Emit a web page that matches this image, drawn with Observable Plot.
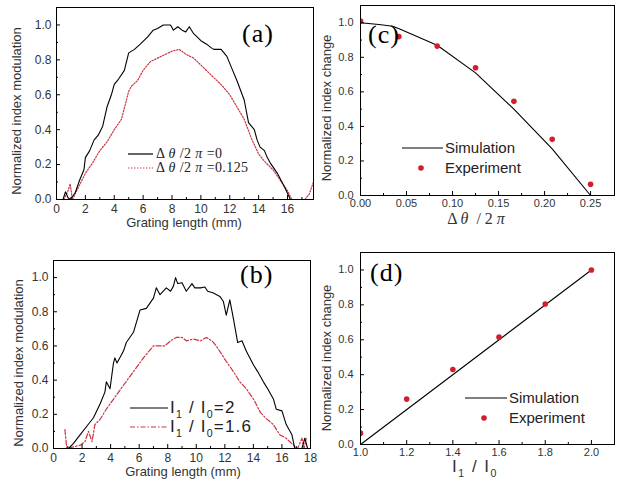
<!DOCTYPE html>
<html><head><meta charset="utf-8">
<script src="https://cdn.jsdelivr.net/npm/d3@7"></script>
<script src="https://cdn.jsdelivr.net/npm/@observablehq/plot@0.6"></script>
<style>
body{margin:0;background:#fff;}
#fig{position:relative;width:619px;height:491px;overflow:hidden;background:#fff;}
.p{position:absolute;}
</style></head><body><div id="fig"></div>
<script>
// ---- Panel (a): index modulation vs grating length, Δθ/2π = 0 and 0.125
const aZero = [[0,0],[0.45,0],[0.62,0.044],[0.8,0.01],[0.97,0],[1.3,0.04],[1.6,0.11],[1.9,0.17],[2.0,0.24],[2.3,0.28],[2.6,0.34],[2.9,0.37],[3.2,0.42],[3.5,0.53],[3.8,0.6],[4.0,0.66],[4.3,0.69],[4.7,0.74],[5.0,0.84],[5.4,0.86],[5.8,0.89],[6.3,0.93],[6.7,0.97],[7.0,0.98],[7.4,1.0],[7.9,1.0],[8.1,0.97],[8.4,0.99],[8.7,0.97],[8.95,0.96],[9.2,0.99],[9.5,0.95],[10.0,0.91],[10.4,0.89],[10.7,0.87],[10.9,0.86],[11.4,0.86],[11.8,0.82],[12.1,0.76],[12.5,0.68],[13.0,0.57],[13.3,0.44],[13.5,0.42],[13.7,0.40],[13.9,0.34],[14.1,0.30],[14.4,0.28],[14.6,0.24],[14.8,0.21],[15.3,0.15],[15.8,0.07],[16.2,0],[17.8,0]];
const aQuarter = [[0.5,0],[0.8,0.05],[0.95,0.09],[1.1,0],[1.4,0.05],[1.7,0.1],[2.0,0.15],[2.5,0.21],[3.0,0.28],[3.5,0.33],[4.0,0.4],[4.5,0.46],[5.0,0.62],[5.2,0.65],[5.6,0.68],[6.0,0.74],[6.5,0.79],[7.0,0.81],[7.5,0.83],[8.0,0.85],[8.5,0.86],[9.0,0.83],[9.5,0.81],[10.0,0.77],[10.5,0.73],[11.0,0.69],[11.5,0.65],[12.0,0.6],[12.5,0.53],[13.0,0.46],[13.5,0.35],[14.0,0.26],[14.5,0.21],[15.0,0.17],[15.5,0.11],[16.0,0.05],[16.3,0],[17.2,0],[17.5,0.03],[17.8,0.1]];
// ---- Panel (b): I1/I0 = 2 and 1.6
const bTwo = [[0,0],[1.05,0],[1.4,0.03],[1.86,0.08],[2.33,0.13],[2.8,0.18],[3.26,0.26],[3.6,0.33],[3.7,0.39],[3.96,0.35],[4.2,0.5],[4.3,0.53],[4.45,0.5],[4.9,0.57],[5.1,0.62],[5.6,0.68],[6.06,0.81],[6.5,0.82],[7.0,0.88],[7.2,0.94],[7.46,0.9],[7.9,0.94],[8.2,0.92],[8.4,0.95],[8.55,1.0],[8.7,0.965],[9.0,0.97],[9.3,0.92],[9.7,0.965],[9.9,0.94],[10.3,0.94],[10.6,0.945],[10.8,0.92],[11.2,0.91],[11.65,0.89],[11.9,0.86],[12.1,0.78],[12.35,0.87],[12.6,0.76],[12.9,0.62],[13.2,0.63],[13.5,0.57],[14.0,0.49],[14.3,0.45],[14.7,0.39],[15.0,0.35],[15.4,0.29],[15.6,0.23],[16.0,0.22],[16.3,0.14],[16.7,0.08],[16.9,0],[17.4,0],[17.6,0.06],[17.8,0]];
const bOneSix = [[0.8,0.11],[0.93,0],[1.9,0.02],[2.2,0.04],[2.45,0.1],[2.7,0.04],[2.9,0.14],[3.26,0.17],[3.7,0.23],[4.3,0.3],[4.9,0.37],[5.6,0.45],[6.3,0.53],[7.0,0.6],[7.3,0.6],[7.8,0.6],[8.2,0.63],[8.6,0.65],[9.0,0.65],[9.3,0.63],[9.8,0.64],[10.3,0.63],[10.7,0.65],[11.1,0.63],[11.4,0.6],[12.1,0.51],[12.6,0.45],[13.05,0.39],[13.5,0.35],[14.0,0.29],[14.5,0.21],[14.9,0.175],[15.4,0.14],[15.85,0.08],[16.3,0.06],[16.8,0.02],[17.1,0],[17.4,0.06],[17.55,0],[17.7,0.06]];
// ---- Panel (c): normalized index change vs Δθ/2π
const cSim = [[0,1.0],[0.02,0.99],[0.035,0.98],[0.042,0.966],[0.0833,0.87],[0.125,0.71],[0.1667,0.50],[0.2083,0.27],[0.25,0.0]];
const cExpX = [0, 0.0417, 0.0833, 0.125, 0.1667, 0.2083, 0.25];
const cExpY = [1.01, 0.92, 0.865, 0.74, 0.545, 0.325, 0.065];
// ---- Panel (d): normalized index change vs I1/I0
const dSim = [[1.0,0],[2.0,1.0]];
const dExpX = [1.0, 1.2, 1.4, 1.6, 1.8, 2.0];
const dExpY = [0.065, 0.26, 0.43, 0.615, 0.805, 1.0];
// ---- tick labels
const modTicks = [0,2,4,6,8,10,12,14,16,18];
const modMinor = [1,3,5,7,9,11,13,15,17];
const yTicks = [0,0.2,0.4,0.6,0.8,1.0];
const yMinor = [0.1,0.3,0.5,0.7,0.9];
const cTicks = [0,0.05,0.1,0.15,0.2,0.25];
const cMinor = [0.025,0.075,0.125,0.175,0.225];
const dTicks = [1.0,1.2,1.4,1.6,1.8,2.0];
const dMinor = [1.1,1.3,1.5,1.7,1.9];

const RED_LINE = "#cc3344", RED_DOT = "#d41c2c";
const SANS = "'Liberation Sans', Arial, sans-serif";
const SERIF = "'Liberation Serif', 'Times New Roman', serif";
const fig = d3.select("#fig");

function panel(c) {
  const pw = c.width - c.ml - c.mr, ph = c.height - c.mt - c.mb;
  const svg = Plot.plot({
    width: c.width, height: c.height,
    marginTop: c.mt, marginRight: c.mr, marginBottom: c.mb, marginLeft: c.ml,
    style: {background: "transparent", fontFamily: SANS, fontSize: "12px", color: "#333", overflow: "visible"},
    x: {domain: c.xDomain, label: null},
    y: {domain: c.yDomain, label: null},
    marks: [
      ...c.marks,
      Plot.axisX({ticks: c.xTicks, tickFormat: c.xFmt, tickSize: 0, tickPadding: c.xPad, label: null, fontSize: c.fs}),
      Plot.axisY({ticks: yTicks, tickFormat: d3.format(".1f"), tickSize: 0, tickPadding: c.yPad, label: null, fontSize: c.fs}),
      Plot.tickX(c.xTicks.filter(v => v >= c.xDomain[0] && v <= c.xDomain[1]), {x: d => d, insetTop: ph - 4, stroke: "#000"}),
      Plot.tickX(c.xMinor, {x: d => d, insetTop: ph - 2, stroke: "#000"}),
      Plot.tickY(yTicks, {y: d => d, insetRight: pw - 4, stroke: "#000"}),
      Plot.tickY(yMinor, {y: d => d, insetRight: pw - 2, stroke: "#000"}),
      Plot.frame({stroke: "#000", strokeWidth: 1})
    ]
  });
  fig.append("div").attr("class", "p").style("left", c.left + "px").style("top", c.top + "px").node().appendChild(svg);
  return d3.select(svg);
}

function rich(g, x, y, parts, o) {
  const t = g.append("text").attr("x", x).attr("y", y)
    .attr("font-family", o.family).attr("font-size", o.size)
    .attr("fill", o.fill || "#222").attr("text-anchor", o.anchor || "start")
    .style("white-space", "pre");
  if (o.spacing) t.attr("letter-spacing", o.spacing);
  if (o.rotate) t.attr("transform", `rotate(-90 ${x} ${y})`);
  let shift = 0;
  for (const p of parts) {
    const s = t.append("tspan").text(p.t);
    const target = p.sub ? Math.round(o.size * 0.28) : 0;
    if (target !== shift) { s.attr("dy", target - shift); shift = target; }
    if (p.sub) s.attr("font-size", o.size * 0.62);
    if (p.italic) s.attr("font-style", "italic");
  }
  return t;
}
function legLine(g, x1, x2, y, stroke, dash) {
  g.append("line").attr("x1", x1).attr("x2", x2).attr("y1", y).attr("y2", y)
    .attr("stroke", stroke).attr("stroke-width", 1.2).attr("stroke-dasharray", dash || null);
}

// ---------- (a)
const A = panel({left: 0, top: 0, width: 316, height: 245, mt: 7, mr: 3, mb: 46, ml: 56, xPad: 5, yPad: 5, fs: 12,
  xDomain: [0, 17.8], yDomain: [0, 1.1], xTicks: modTicks.filter(v => v <= 16), xMinor: modMinor, xFmt: d3.format("d"),
  marks: [
    Plot.line(aQuarter, {x: d => d[0], y: d => d[1], stroke: RED_LINE, strokeWidth: 1.2, strokeDasharray: "1.4,1.6"}),
    Plot.line(aZero, {x: d => d[0], y: d => d[1], stroke: "#000", strokeWidth: 1.1})
  ]});
rich(A, 21, 111, [{t: "Normalized index modulation"}], {family: SANS, size: 13, anchor: "middle", rotate: true, fill: "#333"});
rich(A, 184, 227, [{t: "Grating length (mm)"}], {family: SANS, size: 13, anchor: "middle", fill: "#333"});
rich(A, 242, 42, [{t: "(a)"}], {family: SERIF, size: 26, fill: "#000", spacing: 1});
legLine(A, 128, 153, 154, "#000");
rich(A, 156, 158, [{t: "Δ "}, {t: "θ", italic: true}, {t: " /2 "}, {t: "π", italic: true}, {t: " =0"}], {family: SERIF, size: 14, spacing: 0.4});
legLine(A, 128, 153, 168, RED_LINE, "1.4,1.6");
rich(A, 156, 172, [{t: "Δ "}, {t: "θ", italic: true}, {t: " /2 "}, {t: "π", italic: true}, {t: " =0.125"}], {family: SERIF, size: 14, spacing: 0.4});

// ---------- (c)
const C = panel({left: 310, top: 0, width: 309, height: 245, mt: 5, mr: 5, mb: 50, ml: 50, xPad: 4, yPad: 7, fs: 11,
  xDomain: [0, 0.276], yDomain: [0, 1.1], xTicks: cTicks, xMinor: cMinor, xFmt: d3.format(".2f"),
  marks: [
    Plot.line(cSim, {x: d => d[0], y: d => d[1], stroke: "#000", strokeWidth: 1.1}),
    Plot.dot(cExpX, {x: cExpX, y: cExpY, r: 2.8, fill: RED_DOT, stroke: "none", clip: true})
  ]});
rich(C, 21, 108, [{t: "Normalized index change"}], {family: SANS, size: 13, anchor: "middle", rotate: true, fill: "#333"});
rich(C, 166, 224, [{t: "Δ "}, {t: "θ", italic: true}, {t: "  / 2 "}, {t: "π", italic: true}], {family: SERIF, size: 16, anchor: "middle", fill: "#333"});
rich(C, 58, 43, [{t: "(c)"}], {family: SERIF, size: 26, fill: "#000", spacing: 1});
legLine(C, 92, 133, 148, "#000");
rich(C, 135, 153, [{t: "Simulation"}], {family: SANS, size: 15});
C.append("circle").attr("cx", 111).attr("cy", 168).attr("r", 2.8).attr("fill", RED_DOT);
rich(C, 135, 173, [{t: "Experiment"}], {family: SANS, size: 15});

// ---------- (b)
const B = panel({left: 0, top: 245, width: 316, height: 246, mt: 15, mr: 6, mb: 43, ml: 53, xPad: 5, yPad: 5, fs: 12,
  xDomain: [0, 18], yDomain: [0, 1.1], xTicks: modTicks, xMinor: modMinor, xFmt: d3.format("d"),
  marks: [
    Plot.line(bOneSix, {x: d => d[0], y: d => d[1], stroke: RED_LINE, strokeWidth: 1.2, strokeDasharray: "5,2,1.5,2"}),
    Plot.line(bTwo, {x: d => d[0], y: d => d[1], stroke: "#000", strokeWidth: 1.1})
  ]});
rich(B, 23, 118, [{t: "Normalized index modulation"}], {family: SANS, size: 13, anchor: "middle", rotate: true, fill: "#333"});
rich(B, 183, 231, [{t: "Grating length (mm)"}], {family: SANS, size: 13, anchor: "middle", fill: "#333"});
rich(B, 240, 38, [{t: "(b)"}], {family: SERIF, size: 26, fill: "#000", spacing: 1});
legLine(B, 130, 168, 163, "#000");
rich(B, 170, 168, [{t: "I"}, {t: "1", sub: true}, {t: " / I"}, {t: "0", sub: true}, {t: "=2"}], {family: SANS, size: 17, spacing: 1.2});
legLine(B, 130, 168, 182, RED_LINE, "5,2,1.5,2");
rich(B, 170, 187, [{t: "I"}, {t: "1", sub: true}, {t: " / I"}, {t: "0", sub: true}, {t: "=1.6"}], {family: SANS, size: 17, spacing: 1.2});

// ---------- (d)
const D = panel({left: 310, top: 245, width: 309, height: 246, mt: 7, mr: 5, mb: 47, ml: 50, xPad: 4, yPad: 7, fs: 11,
  xDomain: [1.0, 2.1], yDomain: [0, 1.1], xTicks: dTicks, xMinor: dMinor, xFmt: d3.format(".1f"),
  marks: [
    Plot.line(dSim, {x: d => d[0], y: d => d[1], stroke: "#000", strokeWidth: 1.1}),
    Plot.dot(dExpX, {x: dExpX, y: dExpY, r: 2.8, fill: RED_DOT, stroke: "none", clip: true})
  ]});
rich(D, 21, 113, [{t: "Normalized index change"}], {family: SANS, size: 13, anchor: "middle", rotate: true, fill: "#333"});
rich(D, 165, 227, [{t: "I"}, {t: "1", sub: true}, {t: " / I"}, {t: "0", sub: true}], {family: SANS, size: 17, anchor: "middle", fill: "#333", spacing: 1.5});
rich(D, 60, 36, [{t: "(d)"}], {family: SERIF, size: 26, fill: "#000", spacing: 1});
legLine(D, 155, 197, 153, "#000");
rich(D, 199, 158, [{t: "Simulation"}], {family: SANS, size: 15});
D.append("circle").attr("cx", 174).attr("cy", 173).attr("r", 2.8).attr("fill", RED_DOT);
rich(D, 199, 178, [{t: "Experiment"}], {family: SANS, size: 15});
</script>
</body></html>
